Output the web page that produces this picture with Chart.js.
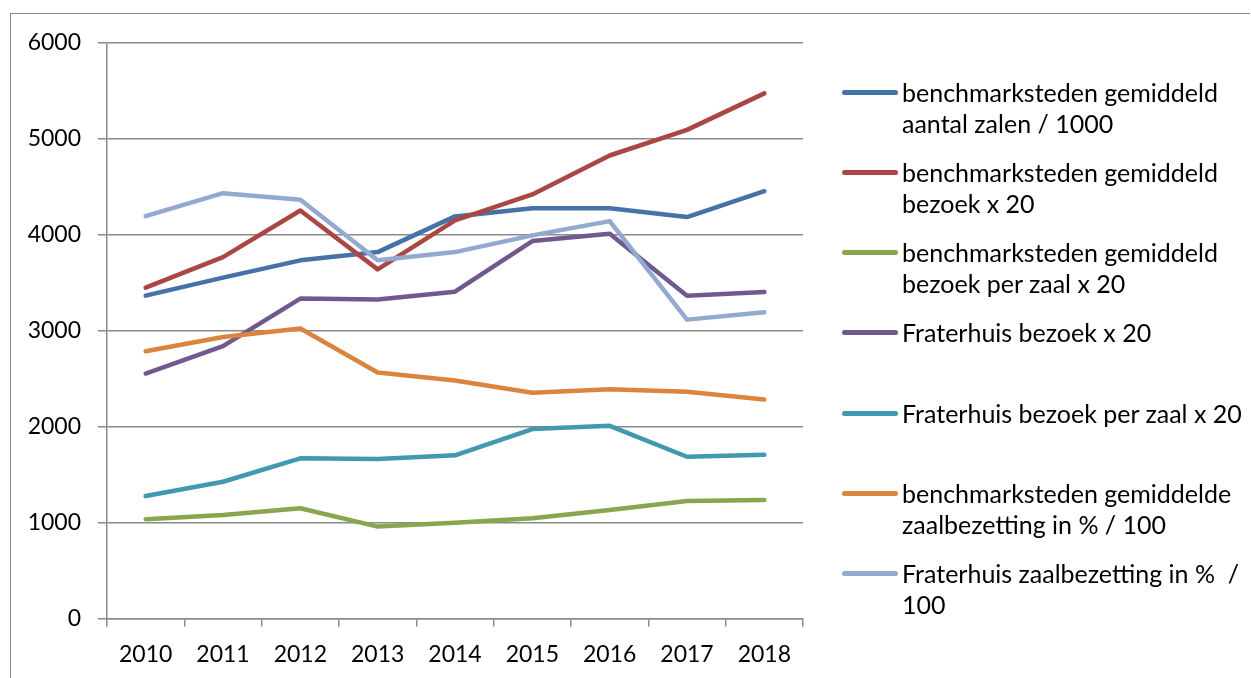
<!DOCTYPE html>
<html>
<head>
<meta charset="utf-8">
<script src="https://cdn.jsdelivr.net/npm/chart.js@4/dist/chart.umd.min.js"></script>
<style>
  html, body { margin: 0; padding: 0; background: #fff; }
  #wrap { position: relative; width: 1251px; height: 678px; overflow: hidden; }
  #frame { position: absolute; left: 10px; top: 13px; width: 1240px; height: 700px;
           border-top: 1.5px solid #8a8a8a; border-left: 1.5px solid #8a8a8a; box-sizing: border-box; }
  canvas { position: absolute; left: 0; top: 0; }
  #legend { position: absolute; left: 0; top: 0; font-family: Lato, "Liberation Sans", sans-serif;
            font-size: 25px; color: #000; }
  .item { position: absolute; left: 842px; line-height: 31px; white-space: pre; }
  .swatch { position: absolute; left: 0; top: 13px; width: 56px; height: 5px; border-radius: 3px; }
  .txt { position: absolute; left: 60px; top: 0; }
</style>
</head>
<body>
<div id="wrap">
  <div id="frame"></div>
  <canvas id="c" width="1251" height="678"></canvas>
  <div id="legend"></div>
</div>
<script>
const years = ['2010','2011','2012','2013','2014','2015','2016','2017','2018'];
const yTicks = [0, 1000, 2000, 3000, 4000, 5000, 6000];

const seriesNames = [
  ['benchmarksteden gemiddeld', 'aantal zalen / 1000'],
  ['benchmarksteden gemiddeld', 'bezoek x 20'],
  ['benchmarksteden gemiddeld', 'bezoek per zaal x 20'],
  ['Fraterhuis bezoek x 20'],
  ['Fraterhuis bezoek per zaal x 20'],
  ['benchmarksteden gemiddelde', 'zaalbezetting in % / 100'],
  ['Fraterhuis zaalbezetting in %  /', '100']
];

const aantalZalen      = [3366, 3554, 3734, 3820, 4192, 4278, 4278, 4185, 4455];
const bezoek           = [3450, 3768, 4254, 3640, 4150, 4421, 4827, 5094, 5475];
const bezoekPerZaal    = [1035, 1079, 1149, 958, 999, 1045, 1131, 1225, 1236];
const fraterBezoek     = [2554, 2839, 3335, 3325, 3407, 3935, 4011, 3366, 3404];
const fraterPerZaal    = [1277, 1426, 1670, 1662, 1701, 1975, 2009, 1686, 1707];
const zaalbezetting    = [2787, 2935, 3023, 2565, 2481, 2353, 2391, 2363, 2284];
const fraterBezetting  = [4195, 4434, 4366, 3734, 3820, 3994, 4143, 3116, 3192];

const seriesValues = [aantalZalen, bezoek, bezoekPerZaal, fraterBezoek, fraterPerZaal, zaalbezetting, fraterBezetting];
const colors = ['#4572A7', '#AA4643', '#89A54E', '#71588F', '#4198AF', '#DB843D', '#93A9CF'];

const FONT = 'Lato, "Liberation Sans", sans-serif';
const GRID = '#8a8a8a';

const datasets = seriesValues.map((vals, i) => ({
  label: seriesNames[i].join(' '),
  data: vals,
  borderColor: colors[i],
  backgroundColor: colors[i],
  borderWidth: 4.5,
  pointRadius: 0,
  pointHoverRadius: 0,
  tension: 0,
  fill: false,
  borderCapStyle: 'round',
  borderJoinStyle: 'round',
  order: seriesValues.length - i
}));

const chart = new Chart(document.getElementById('c'), {
  type: 'line',
  data: { labels: years, datasets },
  options: {
    responsive: false,
    animation: false,
    events: [],
    layout: { padding: { top: 43, right: 448, bottom: 0, left: 0 } },
    plugins: { legend: { display: false }, tooltip: { enabled: false }, title: { display: false } },
    scales: {
      x: {
        type: 'category',
        offset: true,
        grid: { display: true, drawOnChartArea: false, drawTicks: true, tickLength: 8, offset: true,
                color: GRID, lineWidth: 1.5 },
        border: { display: true, color: GRID, width: 1.5 },
        ticks: { color: '#000', font: { family: FONT, size: 23 }, padding: 14, maxRotation: 0, autoSkip: false },
        afterFit: (s) => { s.height = 59.5; }
      },
      y: {
        min: 0, max: 6000,
        afterBuildTicks: (s) => { s.ticks = yTicks.map(v => ({ value: v })); },
        grid: { display: true, drawOnChartArea: true, drawTicks: true, tickLength: 9,
                color: GRID, lineWidth: 1.5 },
        border: { display: true, color: GRID, width: 1.5 },
        ticks: { color: '#000', font: { family: FONT, size: 23 }, padding: 17,
                 callback: (v) => String(v) },
        afterFit: (s) => { s.width = 107; }
      }
    }
  }
});

// HTML legend built from the dataset labels
const legend = document.getElementById('legend');
seriesNames.forEach((lines, i) => {
  const item = document.createElement('div');
  item.className = 'item';
  item.style.top = (76.5 + 80.3 * i) + 'px';
  const sw = document.createElement('div');
  sw.className = 'swatch';
  sw.style.background = chart.data.datasets[i].borderColor;
  item.appendChild(sw);
  const t = document.createElement('div');
  t.className = 'txt';
  lines.forEach((ln) => {
    const d = document.createElement('div');
    d.textContent = ln;
    t.appendChild(d);
  });
  item.appendChild(t);
  legend.appendChild(item);
});
</script>
</body>
</html>
